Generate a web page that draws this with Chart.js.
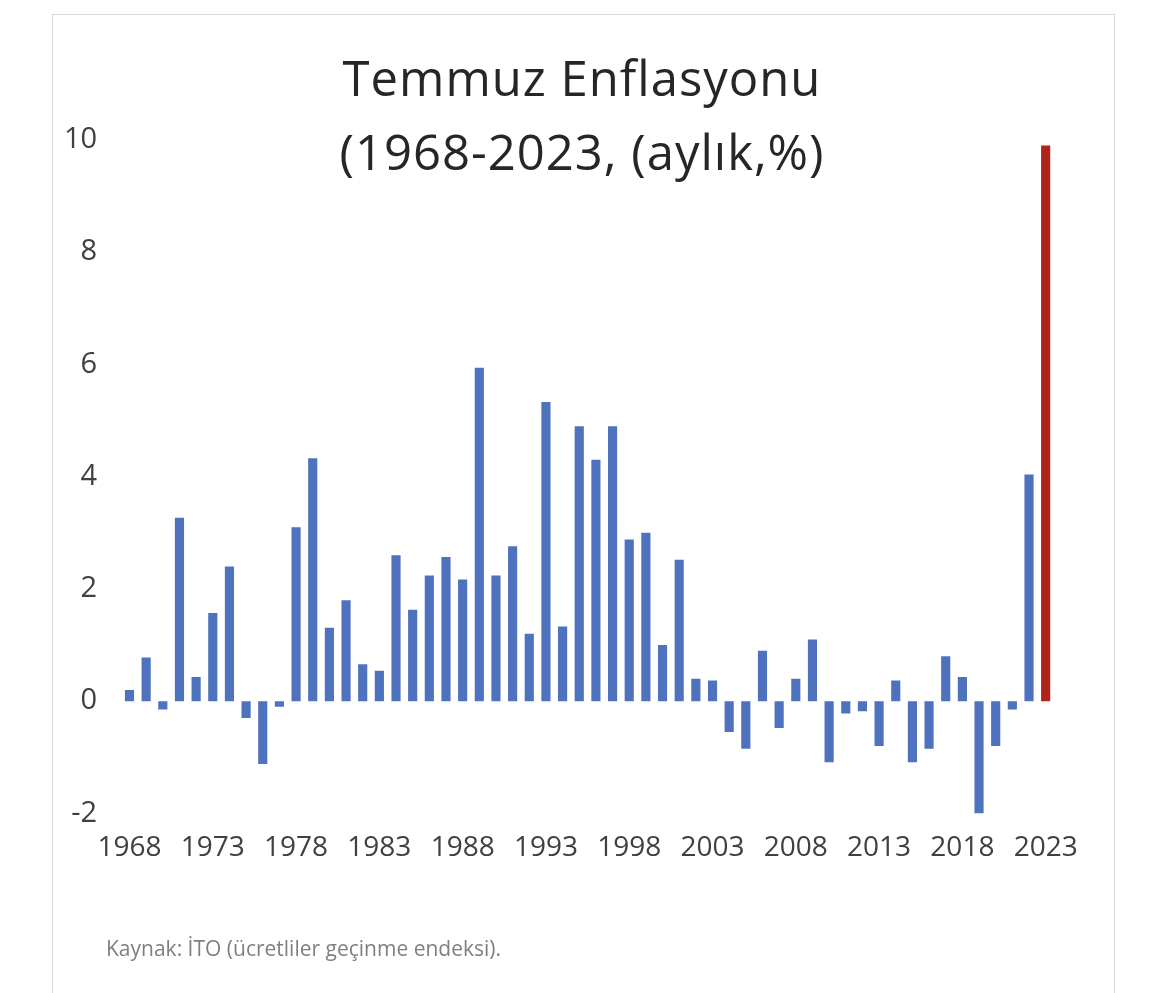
<!DOCTYPE html>
<html><head><meta charset="utf-8">
<script src="https://cdn.jsdelivr.net/npm/chart.js@4/dist/chart.umd.min.js"></script>
<style>
html,body{margin:0;padding:0;background:#fff;}
#wrap{position:relative;width:1170px;height:993px;}
#frame{position:absolute;left:52px;top:14px;width:1063px;height:990px;border:1px solid #d9d9d9;box-sizing:border-box;}
#title{position:absolute;left:0;width:1164px;top:40px;text-align:center;font-family:"Open Sans",Calibri,sans-serif;font-size:49px;letter-spacing:1px;line-height:74px;color:#262626;}
#src{position:absolute;left:106px;top:934px;font-family:"Open Sans",sans-serif;font-size:21px;color:#7f7f7f;}
canvas{position:absolute;left:0;top:0;}
</style></head><body>
<div id="wrap">
<div id="frame"></div>
<canvas id="c" width="1170" height="993"></canvas>
<div id="title">Temmuz Enflasyonu<br>(1968-2023, (aylık,%)</div>
<div id="src">Kaynak: İTO (ücretliler geçinme endeksi).</div>
</div>
<script>
const years = [];
for (let y = 1968; y <= 2023; y++) years.push(String(y));
const values = [0.2,0.78,-0.15,3.27,0.43,1.57,2.4,-0.3,-1.12,-0.1,
3.1,4.33,1.31,1.8,0.66,0.54,2.6,1.63,2.24,2.57,
2.17,5.94,2.24,2.76,1.2,5.33,1.33,4.9,4.3,4.9,
2.88,3.0,1.0,2.52,0.4,0.37,-0.55,-0.85,0.9,-0.48,
0.4,1.1,-1.09,-0.22,-0.18,-0.8,0.37,-1.09,-0.85,0.8,
0.43,-2.0,-0.8,-0.15,4.04,9.9];
const yTicks = [-2,0,2,4,6,8,10];
const colors = years.map(y => y === '2023' ? '#b0221b' : '#4f72be');
new Chart(document.getElementById('c'), {
  type: 'bar',
  data: { labels: years, datasets: [{ data: values, backgroundColor: colors, barPercentage: 0.55, categoryPercentage: 1 }] },
  options: {
    responsive: false, animation: false,
    layout: { padding: { top: 140, bottom: 110, left: 40, right: 116 } },
    plugins: { legend: { display: false }, tooltip: { enabled: false } },
    scales: {
      x: {
        grid: { display: false, drawTicks: false }, border: { display: false },
        ticks: { autoSkip: false, maxRotation: 0, padding: 18, color: '#404040',
          font: { family: 'Open Sans', size: 28 },
          callback: (v, i) => (i % 5 === 0 ? years[i] : '') }
      },
      y: {
        min: -2, max: 10,
        afterBuildTicks: s => { s.ticks = yTicks.map(v => ({ value: v })); },
        grid: { display: false, drawTicks: false }, border: { display: false },
        ticks: { padding: 24, color: '#404040', font: { family: 'Open Sans', size: 29 } }
      }
    }
  }
});
</script>
</body></html>
